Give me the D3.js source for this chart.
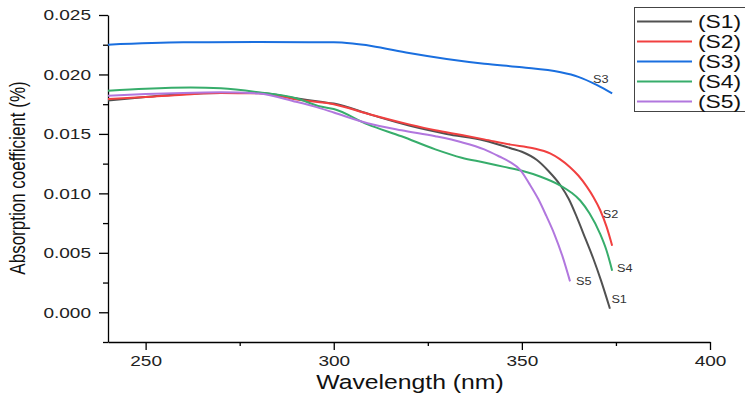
<!DOCTYPE html>
<meta charset="utf-8">
<style>
body { margin: 0; background: #fff; }
svg { font-family: "Liberation Sans", Arial, sans-serif; }
.axis path, .axis line { stroke: #000; stroke-width: 1.3; }
.axis text { fill: #222; font-size: 15px; }
.wide { transform-box: fill-box; transform-origin: center; transform: scaleX(1.27); }
.wideR { transform-box: fill-box; transform-origin: right center; transform: scaleX(1.27); }
.wideL { transform-box: fill-box; transform-origin: left center; transform: scaleX(1.27); }
</style>
<body>
<svg id="chart" width="745" height="399"></svg>
<script src="https://d3js.org/d3.v7.min.js"></script>
<script>

// data: wavelength (nm) and absorption coefficient
var s1 = [[240,0.0178],[250,0.0181],[260,0.01835],[270,0.01845],[280,0.01843],[290,0.0180],[296.5,0.0177],[300,0.01755],[310,0.0166],[320,0.0157],[330,0.0150],[340,0.01445],[347,0.0138],[350,0.0135],[354,0.0128],[357,0.0119],[360.2,0.0107],[362.5,0.0095],[364.6,0.0080],[367,0.0061],[369,0.0045],[371,0.0027],[373.4,0.0003]];
var s2 = [[240,0.01793],[250,0.0181],[260,0.0183],[270,0.01843],[280,0.01842],[291,0.01785],[300,0.0175],[309,0.0167],[320,0.0158],[327,0.0153],[334,0.0149],[340,0.01454],[347,0.0141],[353,0.0138],[357.5,0.01336],[360,0.0129],[362.8,0.0122],[365,0.0115],[367.3,0.01055],[369,0.0097],[370.8,0.0086],[372.5,0.0072],[374,0.0056]];
var s3 = [[240,0.0225],[260,0.0227],[280,0.02272],[300,0.0227],[305,0.0226],[310,0.0224],[320,0.0218],[330,0.0213],[340,0.0209],[350,0.0206],[360,0.0202],[365,0.0198],[370,0.0191],[374,0.0184]];
var s4 = [[240,0.01863],[250,0.0188],[262,0.0189],[270,0.01883],[280,0.0185],[290,0.0180],[296.5,0.0173],[300,0.0171],[309,0.0158],[318,0.0148],[327,0.0137],[334,0.0130],[340,0.0126],[345,0.01225],[350,0.0119],[355,0.0114],[360,0.0107],[363,0.0101],[365.5,0.0094],[368,0.0083],[370.8,0.0066],[372.5,0.0052],[374,0.0035]];
var s5 = [[240,0.0182],[250,0.01835],[260,0.01845],[270,0.0185],[280,0.0184],[290,0.0177],[296.5,0.01715],[300,0.0168],[309,0.0159],[318,0.0153],[327,0.0148],[334,0.0143],[340,0.0137],[344,0.0131],[347,0.0126],[349.5,0.0120],[352,0.0108],[354.4,0.0095],[356.5,0.0081],[358.6,0.0066],[360.8,0.0047],[362.8,0.0026]];

var names = ["(S1)", "(S2)", "(S3)", "(S4)", "(S5)"];
var tags = ["S1", "S2", "S3", "S4", "S5"];
var tagAt = [[373.8,0.0011],[371.5,0.0082],[368.9,0.0196],[375.3,0.0037],[364.4,0.0026]];
var colors = ["#515151", "#F14040", "#1A6FDF", "#37AD6B", "#B177DE"];
var series = [s1, s2, s3, s4, s5];

var xTicks = [250, 300, 350, 400];
var xMinor = [275, 325, 375];
var yTicks = [0, 0.005, 0.01, 0.015, 0.02, 0.025];
var yMinor = [-0.0025, 0.0025, 0.0075, 0.0125, 0.0175, 0.0225];

var svg = d3.select("#chart");

var x = d3.scaleLinear().domain([240, 400]).range([108, 710]);
var y = d3.scaleLinear().domain([-0.0025, 0.025]).range([342, 15]);

// minor ticks first, then the main axes
svg.append("g")
    .attr("class", "axis")
    .attr("transform", "translate(0,342)")
    .call(d3.axisBottom(x).tickValues(xMinor).tickSize(4).tickFormat(""))
    .select(".domain").remove();
svg.append("g")
    .attr("class", "axis")
    .attr("transform", "translate(108,0)")
    .call(d3.axisLeft(y).tickValues(yMinor).tickSize(5).tickFormat(""))
    .select(".domain").remove();

var gx = svg.append("g")
    .attr("class", "axis")
    .attr("transform", "translate(0,342)")
    .call(d3.axisBottom(x).tickValues(xTicks).tickSize(8).tickSizeOuter(0).tickPadding(5).tickFormat(d3.format("d")));
gx.selectAll("text").attr("class", "wide");

var gy = svg.append("g")
    .attr("class", "axis")
    .attr("transform", "translate(108,0)")
    .call(d3.axisLeft(y).tickValues(yTicks).tickSize(9).tickSizeOuter(0).tickPadding(8).tickFormat(d3.format(".3f")));
gy.selectAll("text").attr("class", "wideR");

// curves
var line = d3.line()
    .x(function(d) { return x(d[0]); })
    .y(function(d) { return y(d[1]); })
    .curve(d3.curveMonotoneX);

series.forEach(function(s, i) {
    svg.append("path")
        .datum(s)
        .attr("d", line)
        .attr("fill", "none")
        .attr("stroke", colors[i])
        .attr("stroke-width", 2);
});

// end labels
svg.selectAll(".tag")
    .data(tags)
    .enter().append("text")
    .attr("class", "wideL")
    .attr("x", function(d, i) { return x(tagAt[i][0]); })
    .attr("y", function(d, i) { return y(tagAt[i][1]); })
    .attr("dy", "0.35em")
    .attr("font-size", 10)
    .attr("fill", "#333")
    .text(function(d) { return d; });

// axis titles
svg.append("text")
    .attr("class", "wide")
    .attr("x", 410)
    .attr("y", 389)
    .attr("text-anchor", "middle")
    .attr("font-size", 19.5)
    .attr("fill", "#111")
    .text("Wavelength (nm)");

svg.append("text")
    .attr("transform", "translate(25,178) rotate(-90) scale(1,1.25)")
    .attr("text-anchor", "middle")
    .attr("font-size", 17)
    .attr("fill", "#111")
    .text("Absorption coefficient (%)");

// legend
var leg = svg.append("g");
leg.append("rect")
    .attr("x", 634.5)
    .attr("y", 7.5)
    .attr("width", 130)
    .attr("height", 104)
    .attr("fill", "#fff")
    .attr("stroke", "#444")
    .attr("stroke-width", 1);

names.forEach(function(n, i) {
    var ly = 21.5 + i * 20;
    leg.append("line")
        .attr("x1", 637).attr("x2", 692)
        .attr("y1", ly).attr("y2", ly)
        .attr("stroke", colors[i])
        .attr("stroke-width", 1.8);
    leg.append("text")
        .attr("class", "wideL")
        .attr("x", 698)
        .attr("y", ly)
        .attr("dy", "0.35em")
        .attr("font-size", 18)
        .attr("fill", "#111")
        .text(n);
});

</script>
</body>
